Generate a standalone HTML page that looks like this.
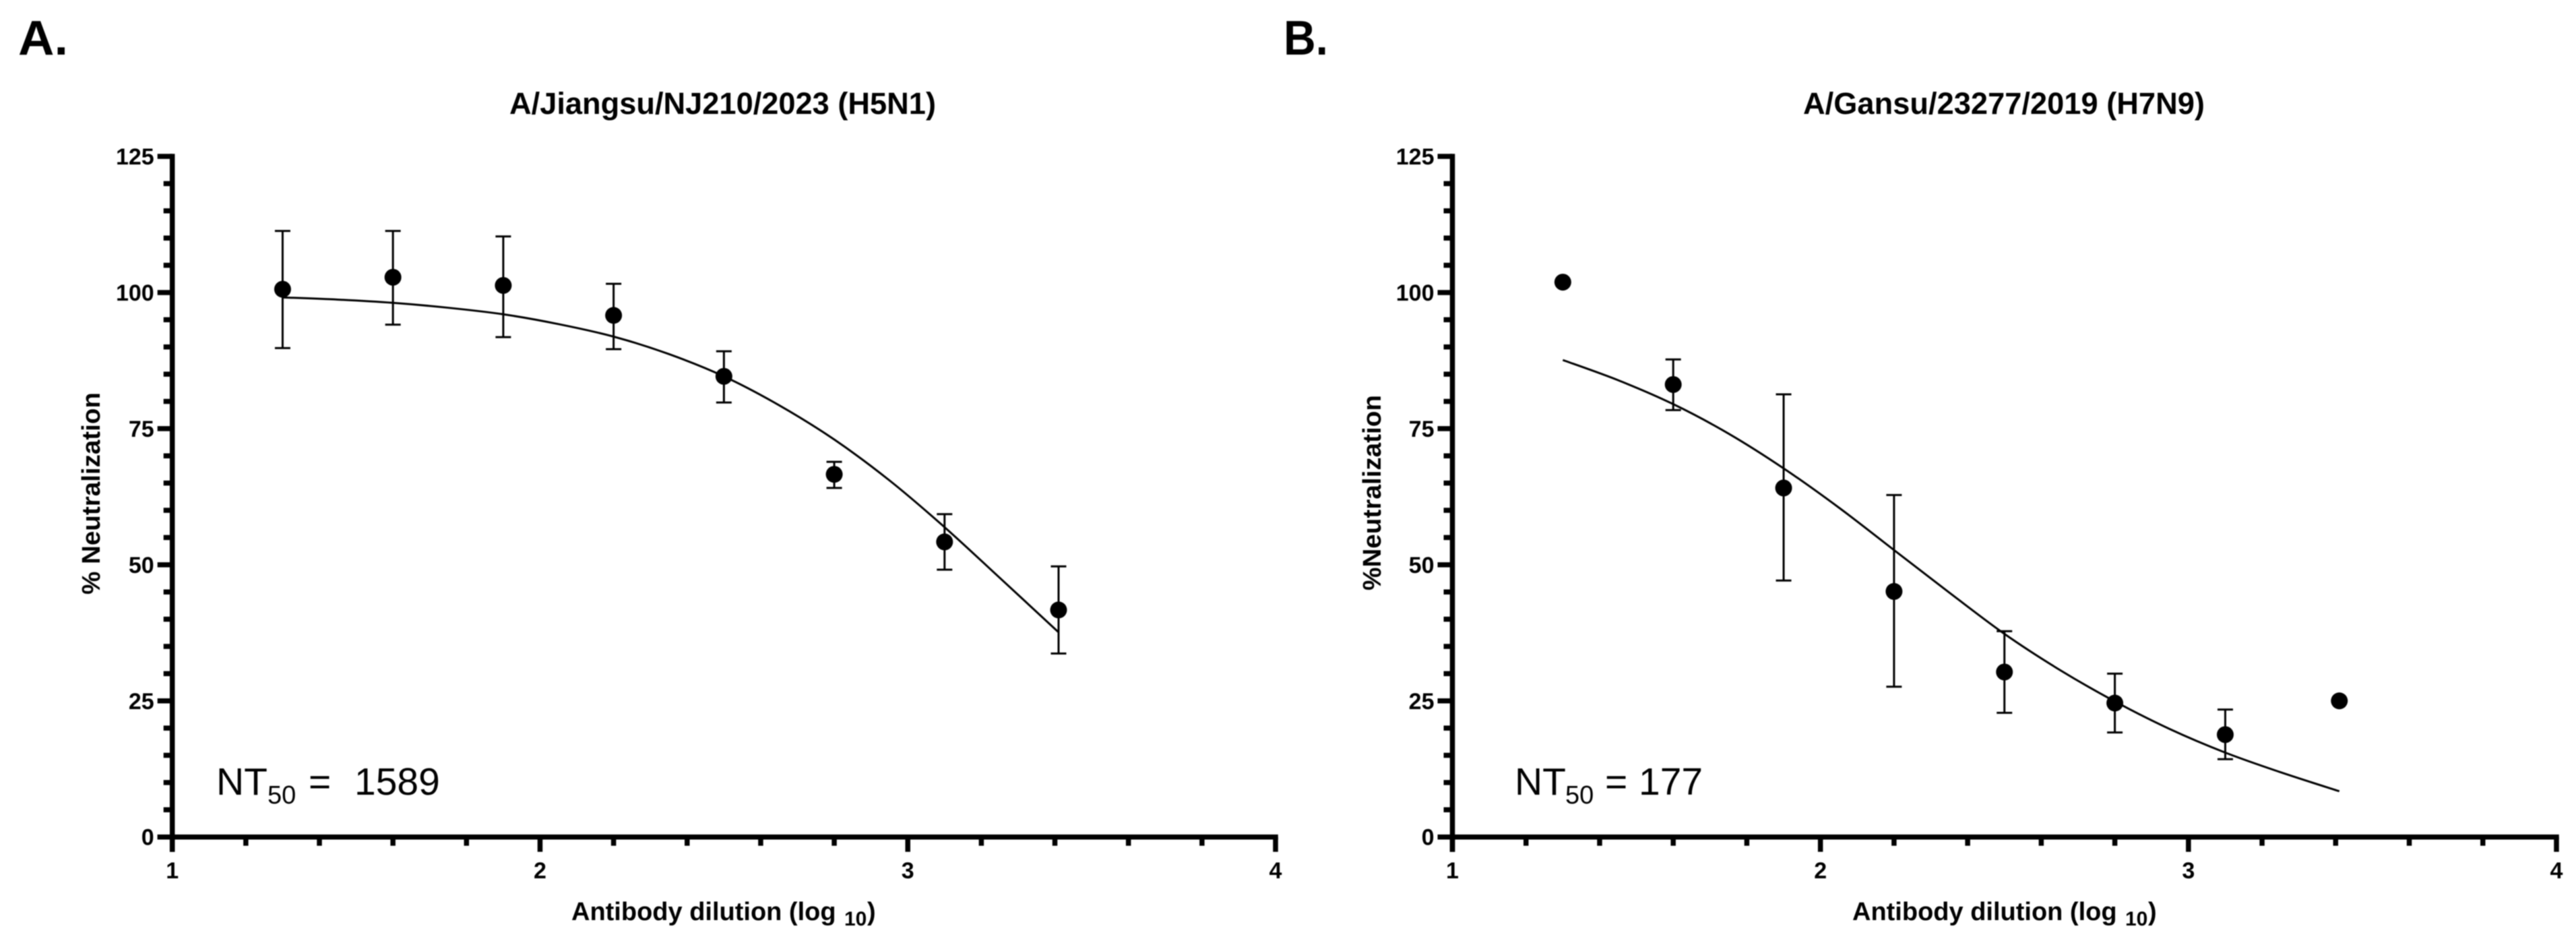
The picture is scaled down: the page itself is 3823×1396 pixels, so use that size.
<!DOCTYPE html>
<html lang="en">
<head>
<meta charset="utf-8">
<title>Neutralization curves</title>
<style>
  html, body { margin: 0; padding: 0; background: #fff; }
  body { width: 3823px; height: 1396px; overflow: hidden; }
  svg { display: block; font-family: "Liberation Sans", Arial, sans-serif; filter: blur(0.7px); }
  .bold { font-weight: 700; fill: #000; }
  .reg { font-weight: 400; fill: #000; }
</style>
</head>
<body>
<svg id="figure" xmlns="http://www.w3.org/2000/svg" width="3823" height="1396" viewBox="0 0 3823 1396">
  <rect x="0" y="0" width="3823" height="1396" fill="#fff"/>

  <text class="bold" x="27" y="81" font-size="72" textLength="74" lengthAdjust="spacingAndGlyphs">A.</text>
  <text class="bold" x="1905" y="81" font-size="72" textLength="66" lengthAdjust="spacingAndGlyphs">B.</text>

  <text class="bold" x="756" y="169" font-size="45" textLength="633" lengthAdjust="spacingAndGlyphs">A/Jiangsu/NJ210/2023 (H5N1)</text>
  <text class="bold" x="2676" y="169" font-size="45" textLength="596" lengthAdjust="spacingAndGlyphs">A/Gansu/23277/2019 (H7N9)</text>

  <text class="bold" transform="translate(148 882) rotate(-90)" font-size="38" textLength="300" lengthAdjust="spacingAndGlyphs">% Neutralization</text>
  <text class="bold" transform="translate(2049 876) rotate(-90)" font-size="38" textLength="290" lengthAdjust="spacingAndGlyphs">%Neutralization</text>

  <text class="bold" y="1365" font-size="38"><tspan x="848">Antibody dilution (log</tspan><tspan x="1253" dy="8" font-size="30">10</tspan><tspan x="1287" dy="-8">)</tspan></text>
  <text class="bold" y="1365" font-size="38"><tspan x="2749">Antibody dilution (log</tspan><tspan x="3154" dy="8" font-size="30">10</tspan><tspan x="3188" dy="-8">)</tspan></text>

  <text class="reg" y="1179" font-size="57"><tspan x="321">NT</tspan><tspan x="397" dy="13" font-size="38">50</tspan><tspan x="458" dy="-13">=</tspan><tspan x="526">1589</tspan></text>
  <text class="reg" y="1179" font-size="57"><tspan x="2248">NT</tspan><tspan x="2323" dy="13" font-size="38">50</tspan><tspan x="2382" dy="-13">=</tspan><tspan x="2432">177</tspan></text>

  <g id="panel-a"></g>
  <g id="panel-b"></g>
</svg>

<script>
// Axis tick labels
const xTickLabels = [1, 2, 3, 4];
const yTickLabels = [0, 25, 50, 75, 100, 125];

// Dilutions shared by both panels (log10)
const h5n1Dilutions = [1.30, 1.60, 1.90, 2.20, 2.50, 2.80, 3.10, 3.41];
const h7n9Dilutions = [1.30, 1.60, 1.90, 2.20, 2.50, 2.80, 3.10, 3.41];

// H5N1 measurements
const h5n1Values = [100.6, 102.8, 101.3, 95.8, 84.6, 66.6, 54.2, 41.7];
const h5n1ErrorHigh = [111.3, 111.3, 110.3, 101.6, 89.2, 68.9, 59.3, 49.7];
const h5n1ErrorLow = [89.8, 94.1, 91.8, 89.6, 79.8, 64.1, 49.1, 33.7];

// H5N1 fitted curve
const h5n1CurveX = [1.30, 1.45, 1.60, 1.75, 1.90, 2.05, 2.20, 2.35, 2.50, 2.65, 2.80, 2.95, 3.10, 3.25, 3.41];
const h5n1CurveY = [99.1, 98.7, 98.1, 97.2, 96.0, 94.2, 91.9, 88.7, 84.6, 79.3, 73.0, 65.5, 56.9, 47.6, 37.6];

// H7N9 measurements (first and last points have no error bars)
const h7n9Values = [101.9, 83.1, 64.1, 45.1, 30.3, 24.6, 18.8, 25.0];
const h7n9ErrorHigh = [null, 87.7, 81.3, 62.8, 37.8, 30.0, 23.4, null];
const h7n9ErrorLow = [null, 78.4, 47.1, 27.6, 22.8, 19.2, 14.3, null];

// H7N9 fitted curve
const h7n9CurveX = [1.30, 1.45, 1.60, 1.75, 1.90, 2.05, 2.20, 2.35, 2.50, 2.65, 2.80, 2.95, 3.10, 3.25, 3.41];
const h7n9CurveY = [87.6, 83.9, 79.5, 74.1, 67.7, 60.5, 52.7, 44.9, 37.3, 30.7, 24.9, 19.8, 15.5, 11.9, 8.4];

const SVG_NS = 'http://www.w3.org/2000/svg';

function shape(parent, tag, attrs) {
  const el = document.createElementNS(SVG_NS, tag);
  Object.keys(attrs).forEach(function (k) { el.setAttribute(k, attrs[k]); });
  parent.appendChild(el);
  return el;
}

function drawPanel(root, geo, dilutions, values, errHigh, errLow, curveX, curveY) {
  const xScale = function (v) { return geo.x0 + (v - 1) * (geo.x4 - geo.x0) / 3; };
  const yScale = function (v) { return geo.y0 + v * (geo.y125 - geo.y0) / 125; };

  // Y axis ticks (minor every 5, major every 25)
  for (let v = 0; v <= 125; v += 5) {
    const major = v % 25 === 0;
    const yTick = shape(root, 'line', {
      x1: xScale(1) - (major ? 22 : 13), x2: xScale(1),
      y1: yScale(v), y2: yScale(v),
      stroke: '#000', 'stroke-width': 7.5
    });
    
    
  }

  // X axis ticks (minor every 0.2, major every 1)
  for (let i = 0; i <= 15; i++) {
    const v = 1 + i * 0.2;
    const major = i % 5 === 0;
    const xTick = shape(root, 'line', {
      x1: xScale(v), x2: xScale(v),
      y1: yScale(0), y2: yScale(0) + (major ? 22 : 13),
      stroke: '#000', 'stroke-width': 7.5
    });
    
    
  }

  // Axis lines
  const yAxis = shape(root, 'line', {
    x1: xScale(1), x2: xScale(1), y1: yScale(125) - 3.75, y2: yScale(0) + 22,
    stroke: '#000', 'stroke-width': 7.5
  });
  
  

  const xAxis = shape(root, 'line', {
    x1: xScale(1) - 22, x2: xScale(4) + 3.75, y1: yScale(0), y2: yScale(0),
    stroke: '#000', 'stroke-width': 7.5
  });
  
  

  // Tick labels
  yTickLabels.forEach(function (v) {
    const label = shape(root, 'text', {
      x: xScale(1) - 27, y: yScale(v) + 12, 'text-anchor': 'end',
      'font-size': 34, 'font-weight': 700, fill: '#000'
    });
    label.textContent = String(v);
    
    
  });
  xTickLabels.forEach(function (v) {
    const label = shape(root, 'text', {
      x: xScale(v), y: 1303, 'text-anchor': 'middle',
      'font-size': 34, 'font-weight': 700, fill: '#000'
    });
    label.textContent = String(v);
    
    
  });

  // Fitted curve: Catmull-Rom through the read samples
  const px = curveX.map(xScale);
  const py = curveY.map(yScale);
  let d = 'M' + px[0] + ' ' + py[0];
  for (let i = 0; i < px.length - 1; i++) {
    const a = Math.max(i - 1, 0);
    const b = Math.min(i + 2, px.length - 1);
    d += ' C' + (px[i] + (px[i + 1] - px[a]) / 6) + ' ' + (py[i] + (py[i + 1] - py[a]) / 6) +
         ' ' + (px[i + 1] - (px[b] - px[i]) / 6) + ' ' + (py[i + 1] - (py[b] - py[i]) / 6) +
         ' ' + px[i + 1] + ' ' + py[i + 1];
  }
  const curve = shape(root, 'path', { d: d, fill: 'none', stroke: '#000', 'stroke-width': 3 });
  
  

  // Error bars and points
  dilutions.forEach(function (dil, i) {
    const cx = xScale(dil);
    if (errHigh[i] !== null && errLow[i] !== null) {
      const stem = shape(root, 'line', {
        x1: cx, x2: cx, y1: yScale(errHigh[i]), y2: yScale(errLow[i]),
        stroke: '#000', 'stroke-width': 3
      });
      
      

      const capTop = shape(root, 'line', {
        x1: cx - 11.5, x2: cx + 11.5, y1: yScale(errHigh[i]), y2: yScale(errHigh[i]),
        stroke: '#000', 'stroke-width': 3
      });
      
      

      const capBottom = shape(root, 'line', {
        x1: cx - 11.5, x2: cx + 11.5, y1: yScale(errLow[i]), y2: yScale(errLow[i]),
        stroke: '#000', 'stroke-width': 3
      });
      
      
    }
    const point = shape(root, 'circle', { cx: cx, cy: yScale(values[i]), r: 12.5, fill: '#000' });
    
    
  });
}

drawPanel(document.getElementById('panel-a'),
  { x0: 255.7, x4: 1893, y0: 1241.7, y125: 232 },
  h5n1Dilutions, h5n1Values, h5n1ErrorHigh, h5n1ErrorLow, h5n1CurveX, h5n1CurveY);

drawPanel(document.getElementById('panel-b'),
  { x0: 2155.5, x4: 3794, y0: 1241.7, y125: 232 },
  h7n9Dilutions, h7n9Values, h7n9ErrorHigh, h7n9ErrorLow, h7n9CurveX, h7n9CurveY);
</script>
</body>
</html>
